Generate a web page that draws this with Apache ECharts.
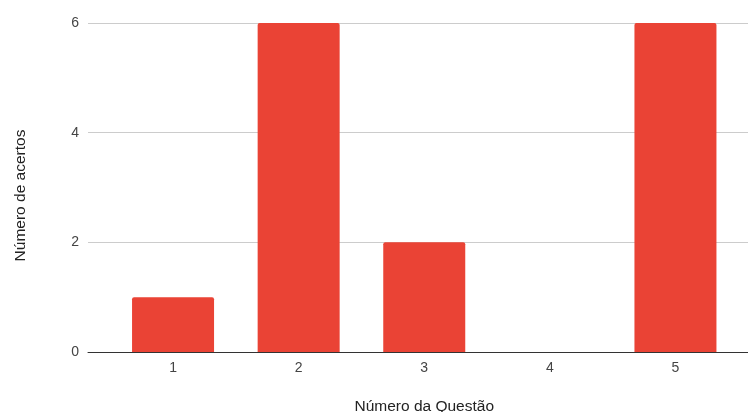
<!DOCTYPE html>
<html>
<head>
<meta charset="utf-8">
<script src="https://cdn.jsdelivr.net/npm/echarts@6/dist/echarts.min.js"></script>
<style>
  html, body { margin: 0; padding: 0; background: #fff; }
  #chart { width: 748px; height: 412px; }
</style>
</head>
<body>
<div id="chart"></div>
<script>
// Acertos por questão
const questoes = ['1', '2', '3', '4', '5'];
const acertos = [1, 6, 2, 0, 6];
const yTicks = [0, 2, 4, 6];

const fontFamily = 'Arial, "Liberation Sans", sans-serif';
const chart = echarts.init(document.getElementById('chart'), null, { renderer: 'canvas' });

chart.setOption({
  animation: false,
  backgroundColor: '#ffffff',
  grid: [
    // full-width frame: gridlines and baseline
    { left: 88, right: 0, top: 23, bottom: 60, outerBoundsMode: 'none', containLabel: false },
    // bars and category labels
    { left: 110.25, right: 9.75, top: 23, bottom: 60, outerBoundsMode: 'none', containLabel: false }
  ],
  xAxis: [
    {
      type: 'category', gridIndex: 0, data: questoes,
      axisLine: { show: true, lineStyle: { color: '#333333', width: 1 } },
      axisTick: { show: false }, axisLabel: { show: false }
    },
    {
      type: 'category', gridIndex: 1, data: questoes,
      name: 'Número da Questão', nameLocation: 'middle', nameGap: 47,
      nameTextStyle: { color: '#222222', fontSize: 15.5, fontFamily },
      axisLine: { show: false }, axisTick: { show: false },
      axisLabel: { color: '#444444', fontSize: 14, fontFamily, margin: 9 }
    }
  ],
  yAxis: [
    {
      type: 'value', gridIndex: 0, min: yTicks[0], max: yTicks[yTicks.length - 1], interval: 2,
      name: 'Número de acertos', nameLocation: 'middle', nameGap: 59, nameRotate: 90,
      nameTextStyle: { color: '#222222', fontSize: 15.5, fontFamily, padding: [0, 16, 0, 0] },
      axisLine: { show: false }, axisTick: { show: false },
      axisLabel: { color: '#444444', fontSize: 14, fontFamily, margin: 9 },
      splitLine: { lineStyle: { color: '#cccccc', width: 1 } }
    },
    {
      type: 'value', gridIndex: 1, min: yTicks[0], max: yTicks[yTicks.length - 1], interval: 2,
      axisLine: { show: false }, axisTick: { show: false },
      axisLabel: { show: false }, splitLine: { show: false }
    }
  ],
  series: [
    {
      type: 'bar', xAxisIndex: 1, yAxisIndex: 1,
      data: acertos,
      barWidth: 82,
      itemStyle: { color: '#ea4335', borderRadius: [2, 2, 0, 0] },
      z: 3
    }
  ]
});
</script>
</body>
</html>
